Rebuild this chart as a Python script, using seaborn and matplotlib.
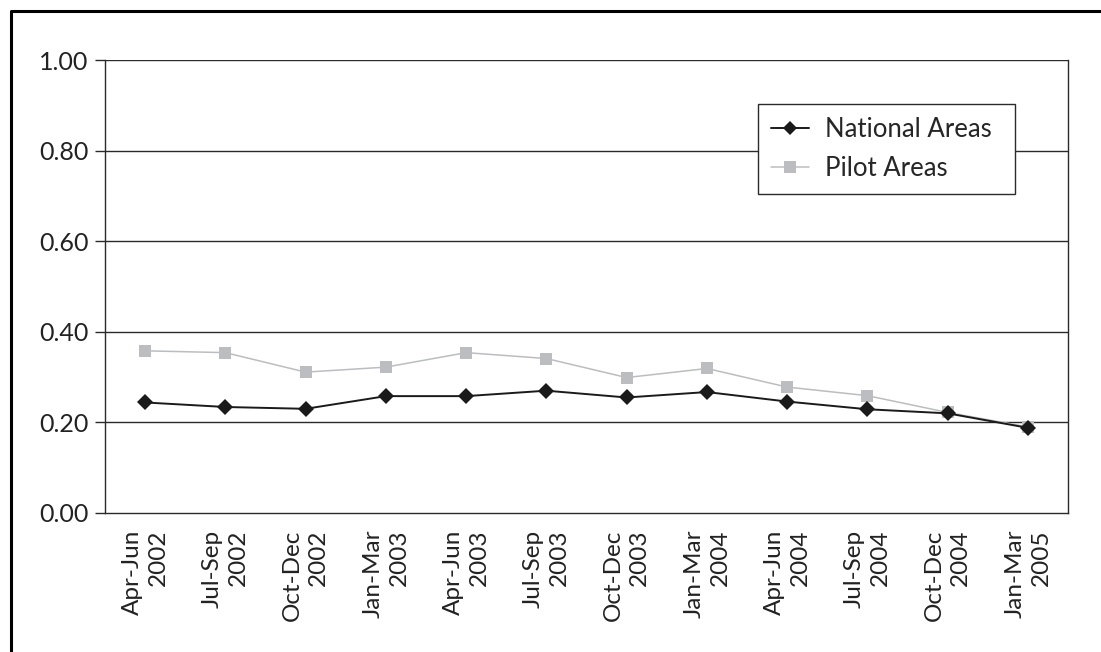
import matplotlib
matplotlib.use("Agg")
import matplotlib.pyplot as plt
from matplotlib.lines import Line2D
from matplotlib.ticker import FixedLocator
import numpy as np
import pandas as pd
import seaborn as sns

quarters = ["Apr-Jun\n2002", "Jul-Sep\n2002", "Oct-Dec\n2002", "Jan-Mar\n2003",
            "Apr-Jun\n2003", "Jul-Sep\n2003", "Oct-Dec\n2003", "Jan-Mar\n2004",
            "Apr-Jun\n2004", "Jul-Sep\n2004", "Oct-Dec\n2004", "Jan-Mar\n2005"]
national = [0.244, 0.234, 0.230, 0.258, 0.258, 0.270, 0.255, 0.267, 0.246, 0.229, 0.220, 0.188]
pilot = [0.358, 0.354, 0.311, 0.322, 0.354, 0.341, 0.299, 0.319, 0.278, 0.259, 0.222, 0.190]
y_ticks = [0.0, 0.2, 0.4, 0.6, 0.8, 1.0]

sns.set_style("white")
plt.rcParams["font.family"] = ["Lato", "DejaVu Sans"]

fig = plt.figure(figsize=(11.01, 6.52), dpi=100)
ax = fig.add_axes([105 / 1101, 1 - 513 / 652, (1068 - 105) / 1101, (513 - 60) / 652])

pos = np.arange(len(quarters)) + 0.5
df = pd.DataFrame({"pos": pos, "National Areas": national, "Pilot Areas": pilot})

sns.lineplot(data=df, x="pos", y="Pilot Areas", ax=ax, color="#bcbdc0", lw=1.1,
             marker="s", markersize=9, markeredgewidth=0, zorder=3)
sns.lineplot(data=df, x="pos", y="National Areas", ax=ax, color="#1a1a1a", lw=1.4,
             marker="D", markersize=8.5, markeredgewidth=0, zorder=4)

ax.set_xlim(0, len(quarters))
ax.set_ylim(0, 1.0)
ax.set_xlabel("")
ax.set_ylabel("")

# horizontal grid
ax.yaxis.set_major_locator(FixedLocator(y_ticks))
ax.set_yticklabels([f"{v:.2f}" for v in y_ticks], fontsize=18, color="#222222")
for v in y_ticks[1:]:
    ax.axhline(v, color="#2a2a2a", lw=1.0, zorder=1)

# category labels centred, tick marks on category boundaries
ax.set_xticks(pos)
ax.set_xticklabels(quarters, rotation=90, fontsize=17.5, color="#222222",
                   multialignment="right", linespacing=1.3)
ax.tick_params(axis="x", which="major", length=0, pad=12)
ax.xaxis.set_minor_locator(FixedLocator(np.arange(len(quarters) + 1)))
ax.tick_params(axis="x", which="minor", length=7, width=1.0, color="#2a2a2a", direction="out")
ax.tick_params(axis="y", which="major", length=7, width=1.0, color="#2a2a2a",
               direction="out", pad=5, left=True)

for s in ["left", "right", "bottom"]:
    ax.spines[s].set_visible(True)
    ax.spines[s].set_color("#2a2a2a")
    ax.spines[s].set_linewidth(1.0)
ax.spines["top"].set_visible(False)

leg_handles = [
    Line2D([], [], color="#1a1a1a", lw=1.4, marker="D", markersize=7, markeredgewidth=0),
    Line2D([], [], color="#bcbdc0", lw=1.1, marker="s", markersize=8, markeredgewidth=0),
]
x0 = (758 - 105) / 963
w = (1015 - 758) / 963
y1 = 1 - (104 - 60) / 453
h = (194 - 104) / 453
leg = ax.legend(leg_handles, ["National Areas", "Pilot Areas"],
                loc="upper left", bbox_to_anchor=(x0, y1 - h, w, h), mode="expand",
                fontsize=18.5, frameon=True, fancybox=False, framealpha=1, edgecolor="#2a2a2a",
                handlelength=1.5, handletextpad=0.6, borderpad=0.5, labelspacing=0.55,
                borderaxespad=0)
leg.get_frame().set_linewidth(1.0)
leg.set_zorder(10)

# page frame (top and left edges)
fig.add_artist(Line2D([11 / 1101, 11 / 1101, 1.0], [0.0, 1 - 11 / 652, 1 - 11 / 652],
                      transform=fig.transFigure, color="black", lw=2.2))

fig.savefig("out.png", dpi=100)
